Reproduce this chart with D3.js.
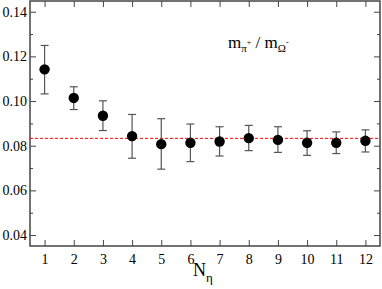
<!DOCTYPE html>
<html>
<head>
<meta charset="utf-8">
<script src="https://cdn.jsdelivr.net/npm/d3@7"></script>
<style>
  body { margin: 0; background: #fff; }
  svg { display: block; font-family: "Liberation Serif", "DejaVu Serif", serif; }
  svg text { font-family: "Liberation Serif", "DejaVu Serif", serif; }
</style>
</head>
<body>
<svg id="chart" width="382" height="289"></svg>
<script>
'use strict';

// N_eta values and measured ratio with error bounds
var nEta = [1, 2, 3, 4, 5, 6, 7, 8, 9, 10, 11, 12];
var ratio = [0.1142, 0.1014, 0.0934, 0.0843, 0.0807, 0.0813, 0.0819, 0.0834, 0.0826, 0.0813, 0.0813, 0.0822];
var errHigh = [0.1249, 0.1064, 0.1001, 0.0940, 0.0921, 0.0897, 0.0885, 0.0891, 0.0885, 0.0867, 0.0862, 0.0871];
var errLow = [0.1032, 0.0962, 0.0868, 0.0744, 0.0695, 0.0729, 0.0754, 0.0778, 0.0770, 0.0757, 0.0765, 0.0772];
var refLine = 0.0833;
var yTicks = [0.04, 0.06, 0.08, 0.10, 0.12, 0.14];
var yMinor = [0.05, 0.07, 0.09, 0.11, 0.13];

var margin = { top: 1, right: 2, bottom: 43, left: 30 };
var width = 382 - margin.left - margin.right;
var height = 289 - margin.top - margin.bottom;

var svg = d3.select("#chart");
var g = svg.append("g").attr("transform", "translate(" + margin.left + "," + margin.top + ")");

var x = d3.scaleLinear().domain([0.5, 12.5]).range([0, width]);
var y = d3.scaleLinear().domain([0.0351, 0.1448]).range([height, 0]);

var axisColor = "#444";

// frame
g.append("rect")
  .attr("width", width).attr("height", height)
  .attr("fill", "none").attr("stroke", axisColor).attr("stroke-width", 1.5);

// ticks (inward, all four sides)
function drawTicks(axis, transform) {
  var a = g.append("g").attr("transform", transform).call(axis);
  a.attr("font-family", null).attr("font-size", null);
  a.select(".domain").remove();
  a.selectAll(".tick line").attr("stroke", axisColor).attr("stroke-width", 1);
  a.selectAll("text").attr("font-size", 14).attr("fill", "#000");
  return a;
}

drawTicks(d3.axisBottom(x).tickValues(nEta).tickSizeInner(-6).tickSizeOuter(0).tickPadding(8).tickFormat(d3.format("d")), "translate(0," + height + ")");
drawTicks(d3.axisTop(x).tickValues(nEta).tickSizeInner(-6).tickSizeOuter(0).tickFormat(""), "translate(0,0)");

drawTicks(d3.axisLeft(y).tickValues(yTicks).tickSizeInner(-6).tickSizeOuter(0).tickPadding(3).tickFormat(d3.format(".2f")), "translate(0,0)");
drawTicks(d3.axisLeft(y).tickValues(yMinor).tickSizeInner(-3).tickSizeOuter(0).tickFormat(""), "translate(0,0)");
drawTicks(d3.axisRight(y).tickValues(yTicks).tickSizeInner(-6).tickSizeOuter(0).tickFormat(""), "translate(" + width + ",0)");
drawTicks(d3.axisRight(y).tickValues(yMinor).tickSizeInner(-3).tickSizeOuter(0).tickFormat(""), "translate(" + width + ",0)");

// reference line
g.append("line")
  .attr("x1", 0).attr("x2", width)
  .attr("y1", y(refLine)).attr("y2", y(refLine))
  .attr("stroke", "#f00").attr("stroke-width", 1)
  .attr("stroke-dasharray", "3,2");

// error bars
var data = nEta.map(function(n, i) {
  return { n: n, v: ratio[i], hi: errHigh[i], lo: errLow[i] };
});

var eb = g.append("g").selectAll("g").data(data).enter().append("g")
  .attr("stroke", "#555").attr("stroke-width", 1.2);
eb.append("line")
  .attr("x1", function(d) { return x(d.n); }).attr("x2", function(d) { return x(d.n); })
  .attr("y1", function(d) { return y(d.hi); }).attr("y2", function(d) { return y(d.lo); });
eb.append("line")
  .attr("x1", function(d) { return x(d.n) - 4; }).attr("x2", function(d) { return x(d.n) + 4; })
  .attr("y1", function(d) { return y(d.hi); }).attr("y2", function(d) { return y(d.hi); });
eb.append("line")
  .attr("x1", function(d) { return x(d.n) - 4; }).attr("x2", function(d) { return x(d.n) + 4; })
  .attr("y1", function(d) { return y(d.lo); }).attr("y2", function(d) { return y(d.lo); });

// points
g.append("g").selectAll("circle").data(data).enter().append("circle")
  .attr("cx", function(d) { return x(d.n); })
  .attr("cy", function(d) { return y(d.v); })
  .attr("r", 5.2)
  .attr("fill", "#000");

// x-axis label
var xl = svg.append("text")
  .attr("x", 193).attr("y", 276)
  .attr("font-size", 18).attr("fill", "#000");
xl.append("tspan").text("N");
xl.append("tspan").attr("font-size", 13).attr("dy", 6).text("η");

// annotation
var an = svg.append("text")
  .attr("x", 228).attr("y", 48)
  .attr("font-size", 17).attr("fill", "#000");
an.append("tspan").text("m");
an.append("tspan").attr("font-size", 11).attr("dy", 4).text("π");
an.append("tspan").attr("font-size", 8).attr("dy", -7).text("+");
an.append("tspan").attr("dy", 3).text(" / m");
an.append("tspan").attr("font-size", 11).attr("dy", 4).text("Ω");
an.append("tspan").attr("font-size", 8).attr("dy", -7).text("-");
</script>
</body>
</html>
